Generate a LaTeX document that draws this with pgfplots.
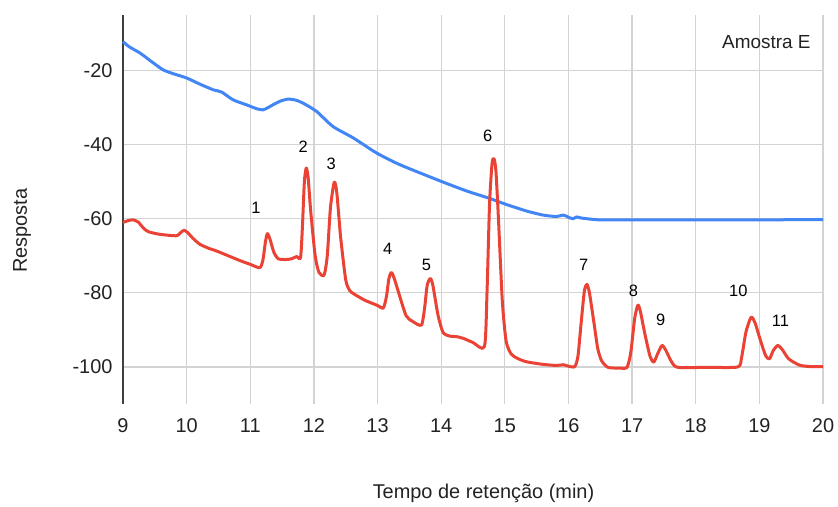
\documentclass[border=0pt]{standalone}
\usepackage{pgfplots}
\pgfplotsset{compat=1.18}
\usepackage{fontspec}
\setmainfont{Liberation Sans}
\definecolor{gblue}{HTML}{4285F4}
\definecolor{gred}{HTML}{EA4335}
\definecolor{gridc}{HTML}{D3D3D3}
\definecolor{txt}{HTML}{222222}
\begin{document}
\begin{tikzpicture}
\useasboundingbox (-123bp,-103bp) rectangle (715bp,404bp);
\begin{axis}[
  scale only axis, width=700bp, height=389bp,
  at={(0,0)}, anchor=south west,
  xmin=9, xmax=20, ymin=-110, ymax=-5,
  xtick={9,10,...,20}, ytick={-100,-80,-60,-40,-20},
  grid=major, major grid style={gridc, line width=1.2bp},
  axis line style={draw=none}, tick style={draw=none},
  /pgf/number format/assume math mode=true,
  tick label style={font=\fontsize{20}{22}\selectfont, text=txt},
  xticklabel style={yshift=-11bp},
  yticklabel style={xshift=-7bp},
  xlabel={Tempo de retenção (min)}, ylabel={Resposta},
  label style={font=\fontsize{20}{22}\selectfont, text=txt},
  xlabel style={at={(axis description cs:0.515,-0.229)}, anchor=center},
  ylabel style={at={(axis description cs:-0.144,0.445)}, anchor=center, rotate=0},
  clip=false,
]
\draw[color=black!75, line width=2bp] (rel axis cs:0,0) -- (rel axis cs:0,1);
\addplot[gblue, line width=3bp, smooth, tension=0.4, line join=round] coordinates {
(9.0,-12.2) (9.1,-13.6) (9.27,-15.3) (9.45,-17.6) (9.63,-19.8) (9.8,-20.9) (10.0,-22.0) (10.2,-23.6) (10.42,-25.2) (10.55,-25.8) (10.73,-27.9) (10.95,-29.3) (11.1,-30.3) (11.2,-30.6) (11.28,-30.0) (11.36,-29.2) (11.48,-28.2) (11.6,-27.7) (11.72,-28.0) (11.83,-28.8) (12.04,-31.0) (12.3,-35.1) (12.62,-38.2) (12.98,-42.2) (13.35,-45.4) (14.0,-49.9) (14.4,-52.5) (14.76,-54.5) (15.0,-56.0) (15.34,-57.9) (15.6,-59) (15.81,-59.4) (15.92,-59.0) (16.0,-59.6) (16.07,-60.0) (16.13,-59.5) (16.2,-59.8) (16.49,-60.3) (17.0,-60.3) (18.0,-60.3) (19.0,-60.3) (20.0,-60.2)
};
\addplot[gred, line width=3bp, smooth, tension=0.4, line join=round] coordinates {
(9.0,-61.0) (9.08,-60.5) (9.16,-60.3) (9.24,-60.9) (9.32,-62.5) (9.40,-63.5) (9.58,-64.2) (9.84,-64.6) (9.90,-63.8) (9.96,-63.1) (10.02,-63.8) (10.10,-65.3) (10.21,-66.9) (10.35,-68.0) (10.47,-68.7) (10.84,-71.3) (11.0,-72.3) (11.15,-73.2) (11.2,-71) (11.24,-66) (11.27,-64.0) (11.31,-65.5) (11.37,-69) (11.44,-70.8) (11.56,-71.0) (11.65,-70.8) (11.73,-70.2) (11.79,-70.5) (11.82,-62) (11.85,-50) (11.88,-46.3) (11.91,-49) (11.95,-58) (12.02,-70) (12.08,-74.5) (12.16,-75.2) (12.21,-70) (12.26,-57) (12.32,-50.1) (12.36,-53) (12.42,-65) (12.5,-76.5) (12.56,-79.3) (12.62,-80.2) (12.8,-82) (13.0,-83.4) (13.09,-84.1) (13.14,-81) (13.18,-76) (13.22,-74.5) (13.27,-76.5) (13.35,-81) (13.45,-86.2) (13.55,-87.7) (13.69,-88.7) (13.74,-84) (13.78,-78) (13.83,-76.1) (13.87,-78) (13.95,-86) (14.03,-90.7) (14.14,-91.7) (14.24,-91.8) (14.35,-92.3) (14.5,-93.4) (14.68,-94.5) (14.72,-80) (14.76,-56) (14.8,-45) (14.83,-43.8) (14.86,-47) (14.9,-60) (14.96,-82) (15.02,-93) (15.10,-96.5) (15.2,-97.7) (15.34,-98.6) (15.6,-99.3) (15.81,-99.6) (15.92,-99.4) (16.0,-99.8) (16.1,-99.9) (16.15,-97) (16.2,-88) (16.25,-79.5) (16.29,-77.7) (16.33,-80) (16.4,-88) (16.46,-95) (16.52,-98.3) (16.62,-100.1) (16.8,-100.3) (16.92,-100.1) (16.98,-96) (17.04,-87) (17.09,-83.3) (17.13,-85) (17.2,-91) (17.28,-97) (17.34,-98.7) (17.4,-96.5) (17.47,-94.2) (17.53,-95.5) (17.62,-98.6) (17.72,-100.1) (18.2,-100.1) (18.66,-100.0) (18.72,-97.5) (18.79,-90.5) (18.87,-86.6) (18.93,-88) (19.02,-93) (19.1,-97) (19.16,-97.8) (19.22,-95.5) (19.29,-94.2) (19.36,-95.3) (19.46,-97.8) (19.63,-99.5) (19.8,-99.9) (20.0,-99.9)
};
\begin{scope}[every node/.style={font=\fontsize{16.5}{18}\selectfont, text=black}]
\node at (axis cs:11.09,-57.1) {1};
\node at (axis cs:11.83,-40.6) {2};
\node at (axis cs:12.27,-45.1) {3};
\node at (axis cs:13.16,-68.2) {4};
\node at (axis cs:13.77,-72.5) {5};
\node at (axis cs:14.73,-37.6) {6};
\node at (axis cs:16.24,-72.5) {7};
\node at (axis cs:17.02,-79.5) {8};
\node at (axis cs:17.45,-87.3) {9};
\node at (axis cs:18.67,-79.5) {10};
\node at (axis cs:19.33,-87.6) {11};
\end{scope}
\node[font=\fontsize{19}{21}\selectfont, text=txt, anchor=east] at (axis cs:19.86,-12.3) {Amostra E};
\end{axis}
\end{tikzpicture}
\end{document}
